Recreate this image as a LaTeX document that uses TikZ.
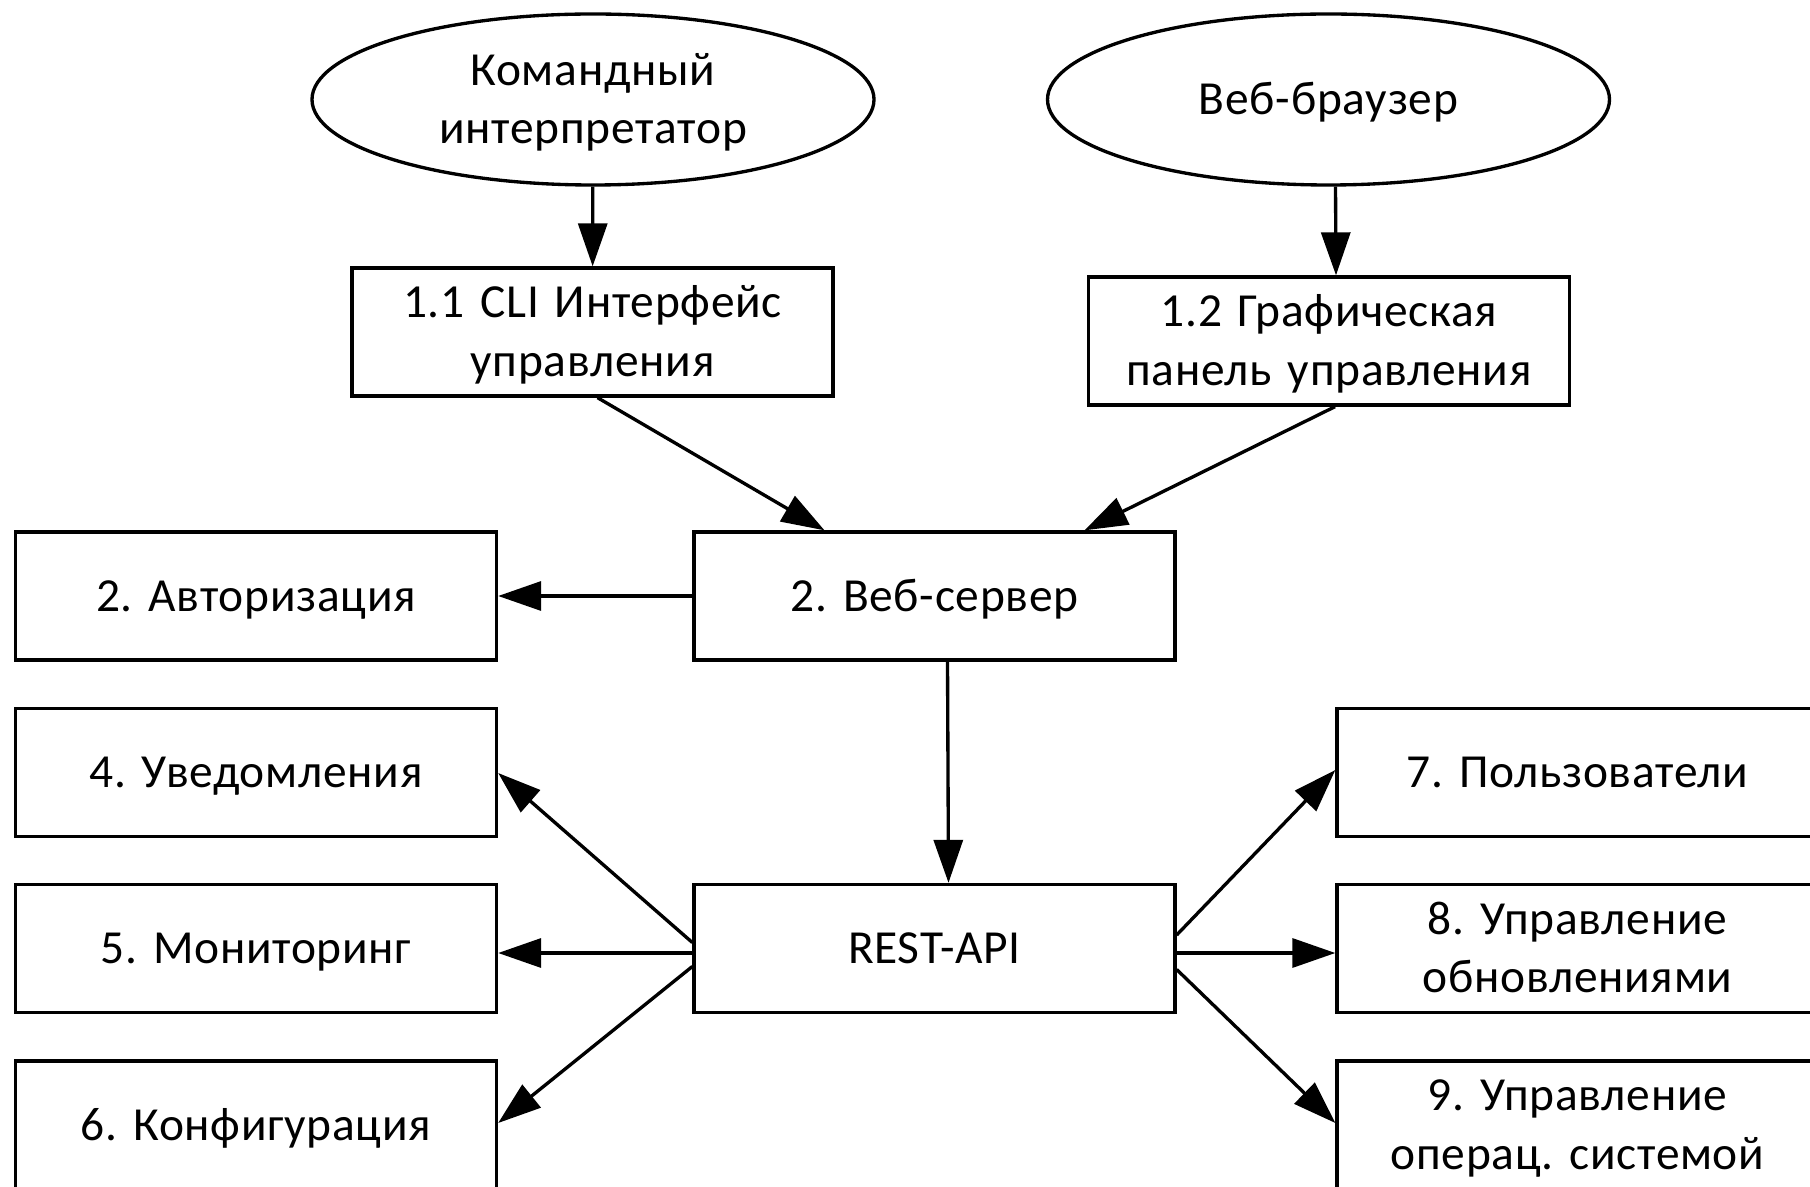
\documentclass[tikz,border=0pt]{standalone}
\usepackage{fontspec}
\setmainfont[LetterSpace=1.5]{Carlito}
\usetikzlibrary{shapes.geometric,arrows.meta}
\frenchspacing

\begin{document}
\begin{tikzpicture}[
  line width=0.95pt,
  every node/.style={font=\fontsize{13.5}{16.6}\selectfont, align=center,
    execute at begin node={\rule{0pt}{12.1pt}},
    execute at end node={\rule[-3.5pt]{0pt}{3.5pt}}},
  blok/.style={draw, rectangle, minimum width=4.81cm, minimum height=1.28cm, inner sep=0pt, text width=4.7cm},
  oval/.style={draw, ellipse, minimum width=5.62cm, minimum height=1.71cm, inner sep=0pt, text width=3.4cm},
  strelka/.style={-{Triangle[length=4.3mm,width=2.9mm]}}
]

\useasboundingbox (0,0) rectangle (18.10,-11.87);
\clip (0,0) rectangle (18.10,-11.87);

\node[oval] (Shell) at (5.93,-0.995) {Командный\\интерпретатор};
\node[oval] (Browser) at (13.285,-0.995) {Веб-браузер};

\node[blok] (CLI) at (5.925,-3.32) {1.1 CLI Интерфейс\\управления};
\node[blok] (Panel) at (13.29,-3.41) {1.2 Графическая\\панель управления};

\node[blok] (WebServer) at (9.345,-5.96) {2. Веб-сервер};
\node[blok] (Auth) at (2.56,-5.96) {2. Авторизация};

\node[blok] (RestApi) at (9.345,-9.485) {REST-API};

\node[blok] (Notify) at (2.56,-7.725) {4. Уведомления};
\node[blok] (Monitor) at (2.56,-9.485) {5. Мониторинг};
\node[blok] (Config) at (2.56,-11.25) {6. Конфигурация};

\node[blok] (Users) at (15.775,-7.725) {7. Пользователи};
\node[blok] (Updates) at (15.775,-9.485) {8. Управление\\обновлениями};
\node[blok] (OsCtl) at (15.775,-11.25) {9. Управление\\операц. системой};

\draw[strelka] (Shell) -- (CLI);
\draw[strelka] ([xshift=0.07cm]Browser.south) -- ([xshift=0.07cm]Panel.north);

\draw[strelka] ([xshift=0.05cm]CLI.south) -- ([xshift=-1.1cm]WebServer.north);
\draw[strelka] ([xshift=0.06cm]Panel.south) -- ([xshift=1.5cm]WebServer.north);

\draw[strelka] (WebServer.west) -- (Auth.east);
\draw[strelka] ([xshift=0.13cm]WebServer.south) -- ([xshift=0.14cm]RestApi.north);

\draw[strelka] ([yshift=0.06cm]RestApi.west) -- ([yshift=-0.005cm]Notify.east);
\draw[strelka] ([yshift=-0.045cm]RestApi.west) -- ([yshift=-0.045cm]Monitor.east);
\draw[strelka] ([yshift=-0.18cm]RestApi.west) -- ([yshift=0.02cm]Config.east);

\draw[strelka] ([yshift=0.135cm]RestApi.east) -- ([yshift=0.025cm]Users.west);
\draw[strelka] ([yshift=-0.045cm]RestApi.east) -- ([yshift=-0.045cm]Updates.west);
\draw[strelka] ([yshift=-0.21cm]RestApi.east) -- ([yshift=0.02cm]OsCtl.west);

\end{tikzpicture}
\end{document}
